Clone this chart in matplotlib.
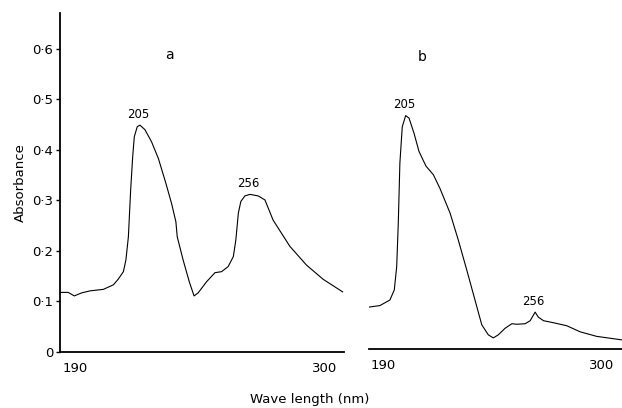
import numpy as np
import matplotlib.pyplot as plt

# spectrum a (left panel)
wl_a = [183.7, 187.0, 189.7, 192.9, 196.6, 202.5, 206.9, 209.0, 211.3, 212.4,
        213.5, 214.5, 215.4, 216.1, 217.4, 218.6, 220.8, 223.7, 226.7, 230.0,
        232.5, 234.4, 235.0, 237.6, 240.3, 242.4, 244.2, 247.9, 251.6, 254.5,
        257.4, 259.7, 260.8, 261.9, 263.0, 264.8, 267.0, 270.6, 273.6, 277.2,
        284.6, 291.9, 299.2, 307.8]
abs_a = [0.118, 0.118, 0.111, 0.117, 0.121, 0.124, 0.133, 0.144, 0.159, 0.182,
         0.228, 0.321, 0.387, 0.426, 0.446, 0.449, 0.440, 0.416, 0.383, 0.334,
         0.294, 0.258, 0.228, 0.182, 0.139, 0.111, 0.117, 0.139, 0.157, 0.159,
         0.169, 0.189, 0.222, 0.275, 0.298, 0.309, 0.312, 0.309, 0.301, 0.261,
         0.209, 0.172, 0.144, 0.119]

# spectrum b (right panel)
wl_b = [183.1, 188.5, 193.5, 195.7, 196.9, 197.7, 198.5, 199.7, 201.4, 203.1,
        205.6, 208.1, 211.6, 215.3, 218.6, 223.7, 227.8, 232.1, 236.2, 239.6,
        242.9, 245.4, 247.9, 251.3, 254.7, 257.2, 261.4, 263.9, 266.4, 268.0,
        270.6, 275.6, 282.3, 289.0, 297.3, 310.0]
abs_b = [0.083, 0.086, 0.097, 0.117, 0.163, 0.249, 0.368, 0.440, 0.462, 0.457,
         0.427, 0.391, 0.362, 0.345, 0.318, 0.269, 0.216, 0.156, 0.097, 0.048,
         0.028, 0.022, 0.028, 0.041, 0.050, 0.049, 0.050, 0.056, 0.073, 0.063,
         0.056, 0.052, 0.046, 0.034, 0.025, 0.018]

peak_labels = ['205', '256']
yticks = [0, 0.1, 0.2, 0.3, 0.4, 0.5, 0.6]
ytick_labels = ['0', '0·1', '0·2', '0·3', '0·4', '0·5', '0·6']

W, H = 622, 408
fig = plt.figure(figsize=(W / 100, H / 100), dpi=100)

def px_axes(x0, x1, ybot, ytop):
    return fig.add_axes([x0 / W, (H - ybot) / H, (x1 - x0) / W, (ybot - ytop) / H])

axa = px_axes(60, 344, 352, 13)
axb = px_axes(369, 622, 349, 10)

for ax in (axa, axb):
    ax.set_ylim(0, 0.671)
    for s in ('top', 'right'):
        ax.spines[s].set_visible(False)
    ax.spines['bottom'].set_linewidth(1.3)
    ax.set_xticks([190, 300])
    ax.set_xticklabels(['190', '300'])
    ax.tick_params(axis='x', length=0, pad=7, labelsize=9.5)

axa.set_xlim(183.4, 308.4)
axb.set_xlim(183.0, 310.0)

axa.spines['left'].set_linewidth(1.3)
axa.set_yticks(yticks)
axa.set_yticklabels(ytick_labels)
axa.tick_params(axis='y', length=3, width=1, pad=2, labelsize=9.5)
axa.set_ylabel('Absorbance', fontsize=9.5, labelpad=4)

axb.spines['left'].set_visible(False)
axb.set_yticks([])

axa.plot(wl_a, abs_a, color='black', lw=0.8)
axb.plot(wl_b, abs_b, color='black', lw=0.8)

def mark_peaks(ax, wl, ab, windows):
    wl = np.array(wl)
    ab = np.array(ab)
    for lab, (lo, hi) in zip(peak_labels, windows):
        m = (wl >= lo) & (wl <= hi)
        i = np.argmax(np.where(m, ab, -1))
        ax.annotate(lab, (wl[i], ab[i]), xytext=(-1, 3), textcoords='offset points',
                    ha='center', va='bottom', fontsize=8.5)

mark_peaks(axa, wl_a, abs_a, [(200, 230), (255, 280)])
mark_peaks(axb, wl_b, abs_b, [(195, 210), (260, 275)])

axa.text(0.385, 0.875, 'a', transform=axa.transAxes, fontsize=10, ha='center', va='center')
axb.text(0.21, 0.86, 'b', transform=axb.transAxes, fontsize=10, ha='center', va='center')

fig.text(310 / W, 1 - 400 / H, 'Wave length (nm)', ha='center', va='center', fontsize=9.5)

fig.savefig('out.png', dpi=100)
